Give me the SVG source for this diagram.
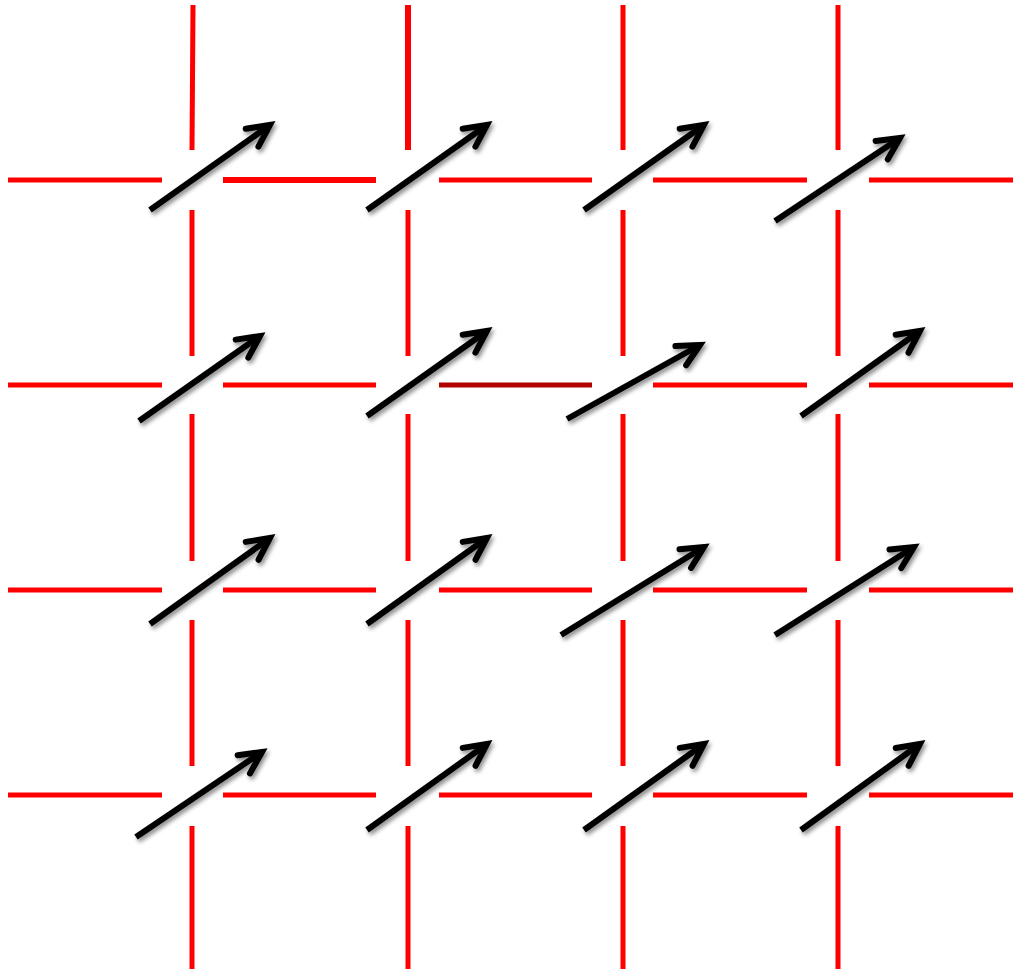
<svg xmlns="http://www.w3.org/2000/svg" width="1013" height="971" viewBox="0 0 1013 971">
<defs>
<style>
.r{stroke:#ff0000;stroke-width:5;fill:none}
.d{stroke:#b20000;stroke-width:5;fill:none}
.a{stroke:#000;stroke-width:6;fill:none;stroke-linecap:butt;marker-end:url(#ah);filter:url(#sh)}
</style>
<marker id="ah" markerUnits="userSpaceOnUse" markerWidth="40" markerHeight="40" viewBox="-30 -20 40 40" refX="0" refY="0" orient="auto" overflow="visible">
<path d="M-22,-11 L0,0 L-22,11" stroke="#000" stroke-width="6" fill="none" stroke-linejoin="miter" stroke-linecap="round"/>
</marker>
<filter id="sh" x="-20%" y="-20%" width="150%" height="150%">
<feDropShadow dx="2" dy="3" stdDeviation="2" flood-color="#000" flood-opacity="0.45"/>
</filter>
</defs>
<rect width="1013" height="971" fill="#fff"/>
<g id="grid">
<g id="horizontals">
<line class="r" x1="8" y1="180" x2="162" y2="180"/><line class="r" x1="223" y1="180" x2="376" y2="180" style="stroke-width:6"/><line class="r" x1="439" y1="180" x2="592" y2="180"/><line class="r" x1="653" y1="180" x2="807" y2="180"/><line class="r" x1="869" y1="180" x2="1013" y2="180"/>
<line class="r" x1="8" y1="385" x2="162" y2="385"/><line class="r" x1="223" y1="385" x2="376" y2="385"/><line class="d" x1="439" y1="385" x2="592" y2="385"/><line class="r" x1="653" y1="385" x2="807" y2="385"/><line class="r" x1="869" y1="385" x2="1013" y2="385"/>
<line class="r" x1="8" y1="590" x2="162" y2="590"/><line class="r" x1="223" y1="590" x2="376" y2="590"/><line class="r" x1="439" y1="590" x2="592" y2="590"/><line class="r" x1="653" y1="590" x2="807" y2="590"/><line class="r" x1="869" y1="590" x2="1013" y2="590"/>
<line class="r" x1="8" y1="795" x2="162" y2="795"/><line class="r" x1="223" y1="795" x2="376" y2="795"/><line class="r" x1="439" y1="795" x2="592" y2="795"/><line class="r" x1="653" y1="795" x2="807" y2="795"/><line class="r" x1="869" y1="795" x2="1013" y2="795"/>
</g>
<g id="verticals">
<line class="r" x1="193" y1="5" x2="192" y2="150"/><line class="r" x1="192" y1="210" x2="192" y2="356"/><line class="r" x1="192" y1="414" x2="192" y2="561"/><line class="r" x1="192" y1="620" x2="192" y2="766"/><line class="r" x1="192" y1="826" x2="192" y2="969"/>
<line class="r" x1="408" y1="5" x2="408" y2="150" style="stroke-width:6"/><line class="r" x1="408" y1="210" x2="408" y2="356"/><line class="r" x1="408" y1="414" x2="408" y2="561"/><line class="r" x1="408" y1="620" x2="408" y2="766"/><line class="r" x1="408" y1="826" x2="408" y2="969"/>
<line class="r" x1="623" y1="5" x2="623" y2="150"/><line class="r" x1="623" y1="210" x2="623" y2="356"/><line class="r" x1="623" y1="414" x2="623" y2="561"/><line class="r" x1="623" y1="620" x2="623" y2="766"/><line class="r" x1="623" y1="826" x2="623" y2="969"/>
<line class="r" x1="838" y1="5" x2="838" y2="150"/><line class="r" x1="838" y1="210" x2="838" y2="356"/><line class="r" x1="838" y1="414" x2="838" y2="561"/><line class="r" x1="838" y1="620" x2="838" y2="766"/><line class="r" x1="838" y1="826" x2="838" y2="969"/>
</g>
</g>
<g id="arrows">
<line class="a" x1="150" y1="210" x2="270" y2="125"/>
<line class="a" x1="367" y1="210" x2="487" y2="125"/>
<line class="a" x1="584" y1="210" x2="704" y2="125"/>
<line class="a" x1="775" y1="221" x2="900" y2="138"/>
<line class="a" x1="139" y1="421" x2="260" y2="336"/>
<line class="a" x1="367" y1="416" x2="487" y2="331"/>
<line class="a" x1="567" y1="419" x2="700" y2="345"/>
<line class="a" x1="801" y1="416" x2="920" y2="331"/>
<line class="a" x1="150" y1="624" x2="270" y2="538"/>
<line class="a" x1="367" y1="624" x2="487" y2="538"/>
<line class="a" x1="561" y1="635" x2="704" y2="547"/>
<line class="a" x1="775" y1="635" x2="914" y2="547"/>
<line class="a" x1="136" y1="837" x2="262" y2="752"/>
<line class="a" x1="367" y1="830" x2="487" y2="744"/>
<line class="a" x1="584" y1="830" x2="704" y2="744"/>
<line class="a" x1="801" y1="830" x2="920" y2="744"/>
</g>
</svg>
